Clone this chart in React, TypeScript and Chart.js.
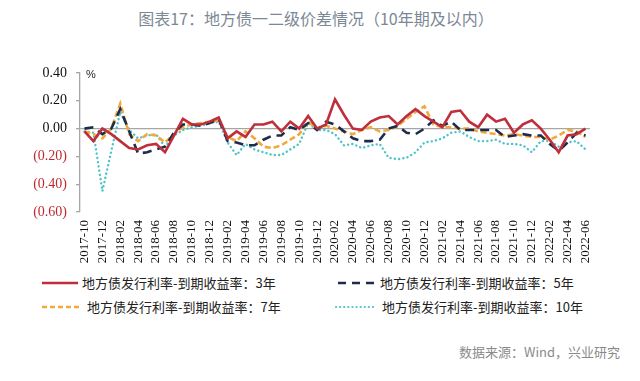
import React, { useEffect, useRef } from 'react';
import { Chart, registerables } from 'chart.js';

Chart.register(...registerables);

const months = [
  '2017-10', '2017-11', '2017-12',
  '2018-01', '2018-02', '2018-03', '2018-04', '2018-05', '2018-06', '2018-07', '2018-08', '2018-09', '2018-10', '2018-11', '2018-12',
  '2019-01', '2019-02', '2019-03', '2019-04', '2019-05', '2019-06', '2019-07', '2019-08', '2019-09', '2019-10', '2019-11', '2019-12',
  '2020-01', '2020-02', '2020-03', '2020-04', '2020-05', '2020-06', '2020-07', '2020-08', '2020-09', '2020-10', '2020-11', '2020-12',
  '2021-01', '2021-02', '2021-03', '2021-04', '2021-05', '2021-06', '2021-07', '2021-08', '2021-09', '2021-10', '2021-11', '2021-12',
  '2022-01', '2022-02', '2022-03', '2022-04', '2022-05', '2022-06',
];

const spread3Y = [
  -0.02, -0.09, 0.00, -0.04, -0.09, -0.14, -0.15, -0.12, -0.11, -0.17,
  -0.05, 0.07, 0.03, 0.03, 0.05, 0.08, -0.07, -0.02, -0.06, 0.03,
  0.03, 0.05, -0.02, 0.05, 0.00, 0.09, 0.00, 0.03, 0.21, 0.10,
  0.00, -0.01, 0.05, 0.08, 0.09, 0.03, 0.09, 0.14, 0.09, 0.05,
  0.01, 0.12, 0.13, 0.05, 0.01, 0.10, 0.05, 0.07, -0.03, 0.03,
  0.06, 0.00, -0.08, -0.17, -0.05, -0.04, 0.00,
];

const spread5Y = [
  0.00, 0.01, -0.04, 0.00, 0.14, -0.02, -0.18, -0.17, -0.15, -0.13,
  -0.03, 0.03, 0.03, 0.02, 0.04, 0.07, -0.09, -0.10, -0.12, -0.12,
  -0.08, -0.05, -0.05, 0.01, -0.01, 0.04, -0.01, 0.05, 0.03, -0.02,
  -0.07, -0.09, -0.09, -0.08, 0.00, 0.02, -0.03, -0.04, 0.00, 0.06,
  0.02, 0.05, -0.01, -0.01, -0.01, -0.01, -0.01, -0.06, -0.05, -0.04,
  -0.05, -0.05, -0.11, -0.16, -0.10, -0.03, -0.05,
];

const spread7Y = [
  -0.02, -0.04, -0.07, 0.00, 0.18, -0.04, -0.09, -0.04, -0.05, -0.10,
  -0.04, 0.01, 0.03, 0.04, 0.05, 0.06, -0.06, -0.09, -0.02, -0.07,
  -0.13, -0.14, -0.12, -0.08, -0.04, 0.05, 0.00, 0.02, 0.00, -0.02,
  -0.04, -0.01, 0.01, -0.02, -0.01, 0.02, 0.07, 0.12, 0.16, 0.03,
  0.01, 0.01, 0.00, 0.00, -0.02, -0.03, -0.04, -0.05, -0.04, -0.05,
  -0.06, -0.06, -0.08, -0.05, -0.01, -0.02, -0.06,
];

const spread10Y = [
  -0.02, -0.03, -0.45, -0.16, 0.12, -0.01, -0.07, -0.05, -0.04, -0.13,
  -0.05, -0.01, 0.01, 0.02, 0.04, 0.05, -0.10, -0.19, -0.11, -0.15,
  -0.17, -0.19, -0.19, -0.15, -0.11, 0.04, -0.01, -0.01, -0.04, -0.12,
  -0.11, -0.14, -0.12, -0.11, -0.21, -0.22, -0.21, -0.17, -0.10, -0.09,
  -0.07, -0.03, -0.02, -0.06, -0.09, -0.09, -0.08, -0.11, -0.11, -0.12,
  -0.17, -0.09, -0.09, -0.13, -0.10, -0.09, -0.15,
];

const seriesNames = [
  '地方债发行利率-到期收益率：3年',
  '地方债发行利率-到期收益率：5年',
  '地方债发行利率-到期收益率：7年',
  '地方债发行利率-到期收益率：10年',
];

const titleText = '图表17：地方债一二级价差情况（10年期及以内）';
const sourceText = '数据来源：Wind，兴业研究';

const RED = '#BE2F3B';
const NAVY = '#1E2C4C';
const ORANGE = '#F2A93B';
const CYAN = '#4CC3CB';
const AXIS = '#A6A6A6';
const NEG = '#C0282E';

const fmtTick = (v: number) => {
  const r = Math.round(v * 100) / 100;
  if (r < 0) return '(' + Math.abs(r).toFixed(2) + ')';
  return r.toFixed(2);
};

export default function App() {
  const ref = useRef<HTMLCanvasElement>(null);

  useEffect(() => {
    if (!ref.current) return;
    const chart = new Chart(ref.current, {
      type: 'line',
      data: {
        labels: months,
        datasets: [
          { label: seriesNames[0], data: spread3Y, borderColor: RED, borderWidth: 2.6, pointRadius: 0, fill: false },
          { label: seriesNames[1], data: spread5Y, borderColor: NAVY, borderWidth: 2.6, borderDash: [9, 6], pointRadius: 0, fill: false },
          { label: seriesNames[2], data: spread7Y, borderColor: ORANGE, borderWidth: 2.6, borderDash: [6, 3], pointRadius: 0, fill: false },
          { label: seriesNames[3], data: spread10Y, borderColor: CYAN, borderWidth: 2.4, borderDash: [0.1, 4.2], borderCapStyle: 'round', pointRadius: 0, fill: false },
        ],
      },
      options: {
        animation: false,
        responsive: false,
        maintainAspectRatio: false,
        layout: { padding: { top: 73, right: 50, left: 0, bottom: 0 } },
        plugins: {
          legend: { display: false },
          tooltip: { enabled: false },
          title: { display: false },
        },
        elements: { line: { tension: 0 }, point: { radius: 0 } },
        scales: {
          x: {
            type: 'category',
            offset: true,
            grid: { display: false, drawTicks: false },
            border: { display: false },
            ticks: {
              autoSkip: false,
              maxRotation: 90,
              minRotation: 90,
              padding: 8,
              color: '#111',
              font: { family: '"Liberation Serif", "DejaVu Serif", serif', size: 13 },
              callback: (_v: any, i: number) => (i % 2 === 0 ? months[i] : ''),
            },
            afterFit: (s: any) => { s.height = 58; },
          },
          y: {
            min: -0.6,
            max: 0.4,
            ticks: {
              stepSize: 0.2,
              padding: 9,
              font: { family: '"Liberation Serif", "DejaVu Serif", serif', size: 14 },
              color: (ctx: any) => (ctx.tick.value < -1e-6 ? NEG : '#111'),
              callback: (v: any) => fmtTick(Number(v)),
            },
            grid: {
              color: (ctx: any) => (ctx.tick && Math.abs(ctx.tick.value) < 1e-6 ? AXIS : 'rgba(0,0,0,0)'),
              tickColor: AXIS,
              tickLength: 4,
              lineWidth: 1.3,
            },
            border: { display: true, color: AXIS, width: 1.3 },
            afterFit: (s: any) => { s.width = 80; },
          },
        },
      },
    } as any);
    return () => chart.destroy();
  }, []);

  const cjk = '"Noto Sans CJK SC", "Noto Sans", sans-serif';
  const legendText: React.CSSProperties = {
    position: 'absolute',
    fontFamily: cjk,
    fontSize: 13,
    lineHeight: '16px',
    color: '#222',
    whiteSpace: 'nowrap',
  };

  return (
    <div style={{ position: 'absolute', left: 0, top: 0, width: 640, height: 381, background: '#fff', overflow: 'hidden' }}>
      <div style={{ position: 'absolute', top: 7, left: 0, width: 632, textAlign: 'center', fontFamily: cjk, fontSize: 16, lineHeight: '22px', color: '#7C8895', whiteSpace: 'nowrap' }}>
        {titleText}
      </div>
      <canvas ref={ref} width={640} height={270} style={{ position: 'absolute', left: 0, top: 0, width: 640, height: 270 }} />
      <div style={{ position: 'absolute', left: 86, top: 68, fontFamily: '"Liberation Sans", sans-serif', fontSize: 11, color: '#222' }}>%</div>

      <svg width={640} height={40} style={{ position: 'absolute', left: 0, top: 270 }}>
        <line x1={42} y1={13} x2={78} y2={13} stroke={RED} strokeWidth={2.6} />
        <line x1={338} y1={13} x2={376} y2={13} stroke={NAVY} strokeWidth={2.6} strokeDasharray="8 6" />
        <line x1={42} y1={37} x2={82} y2={37} stroke={ORANGE} strokeWidth={2.6} strokeDasharray="5 3" />
        <line x1={336} y1={37} x2={376} y2={37} stroke={CYAN} strokeWidth={2.2} strokeDasharray="0.1 4" strokeLinecap="round" />
      </svg>
      <div style={{ ...legendText, left: 82, top: 275 }}>{seriesNames[0]}</div>
      <div style={{ ...legendText, left: 380, top: 275 }}>{seriesNames[1]}</div>
      <div style={{ ...legendText, left: 87, top: 299 }}>{seriesNames[2]}</div>
      <div style={{ ...legendText, left: 382, top: 299 }}>{seriesNames[3]}</div>

      <div style={{ position: 'absolute', right: 20, top: 343, fontFamily: cjk, fontSize: 13, lineHeight: '18px', color: '#8A8A8A', whiteSpace: 'nowrap' }}>
        {sourceText}
      </div>
    </div>
  );
}
